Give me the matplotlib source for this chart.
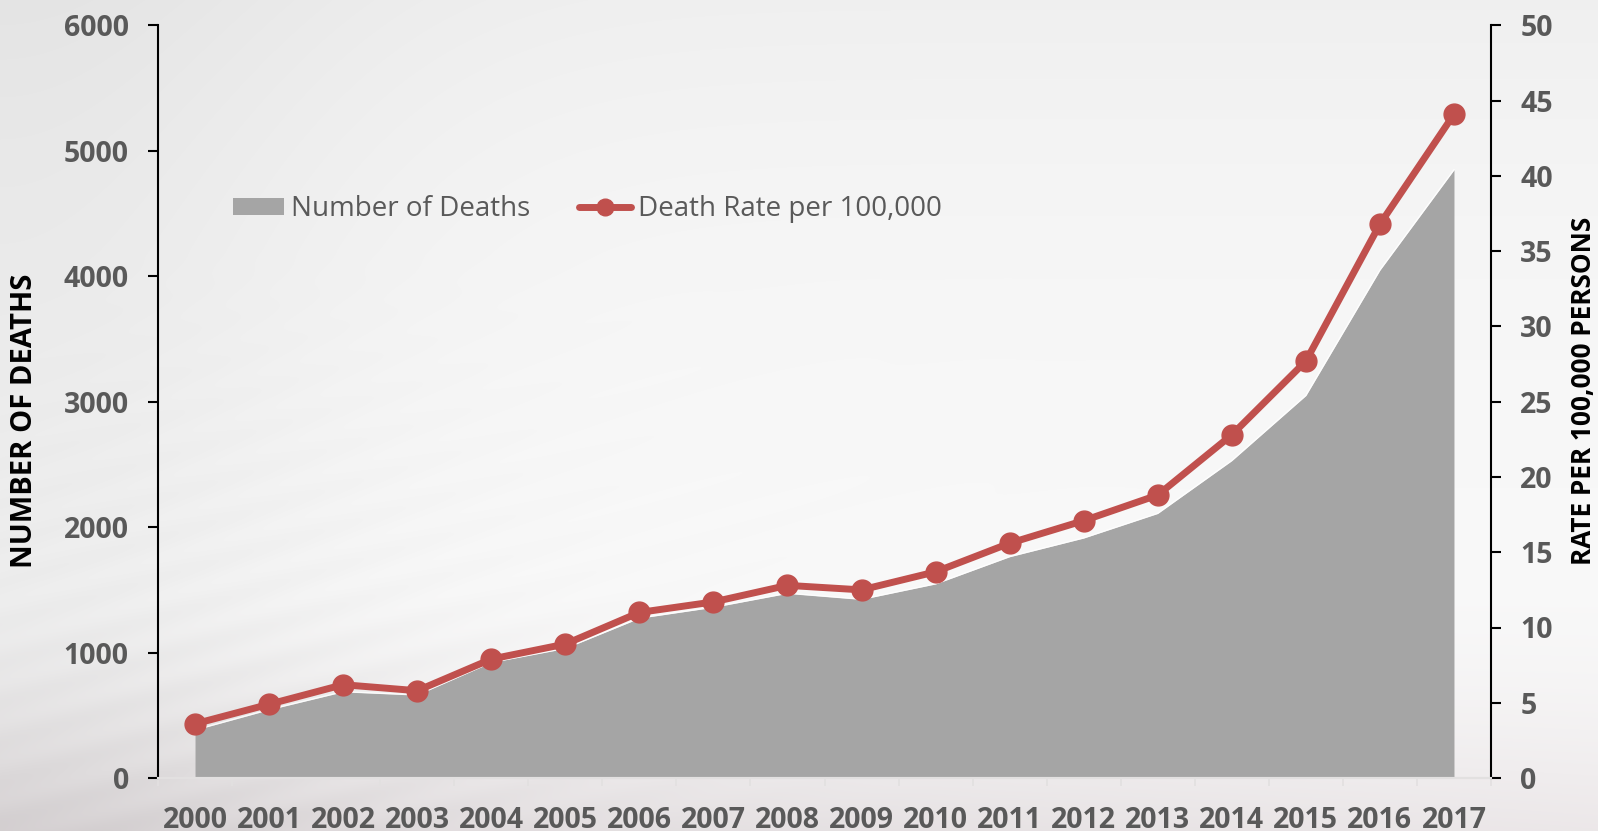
import numpy as np
import matplotlib
matplotlib.use("Agg")
import matplotlib.pyplot as plt
from matplotlib.patches import Patch
from matplotlib.lines import Line2D
from matplotlib.ticker import FixedLocator

plt.rcParams['font.family'] = ['Open Sans', 'DejaVu Sans']

# ---- data -------------------------------------------------------------
years = ['2000', '2001', '2002', '2003', '2004', '2005', '2006', '2007', '2008',
         '2009', '2010', '2011', '2012', '2013', '2014', '2015', '2016', '2017']
deaths = [383, 545, 688, 662, 922, 1034, 1275, 1362, 1473, 1425,
          1548, 1765, 1914, 2110, 2531, 3050, 4050, 4850]
rates = [3.6, 4.9, 6.2, 5.8, 7.9, 8.9, 11.0, 11.7, 12.8, 12.5,
         13.7, 15.6, 17.1, 18.8, 22.8, 27.7, 36.8, 44.1]

deaths_ticks = [0, 1000, 2000, 3000, 4000, 5000, 6000]
rate_ticks = [0, 5, 10, 15, 20, 25, 30, 35, 40, 45, 50]

AREA = '#a5a5a5'
RED = '#c0504d'
TICK_TXT = '#595959'
TICK_SIZE = 20.5

W, H = 1598, 831
fig = plt.figure(figsize=(W / 100, H / 100), dpi=100)

# ---- soft slide-style backdrop ---------------------------------------
yy, xx = np.mgrid[0:1:H * 1j, 0:1:W * 1j]
v = np.full((H, W), 0.975)
v -= 0.035 * (1 - yy) ** 3                      # greyer along the top
v -= 0.045 * np.exp(-(xx / 0.22) ** 2)          # darker left edge
bot = np.clip((yy - 0.70) / 0.30, 0, 1) ** 1.6
v -= bot * (0.11 - 0.05 * xx)                    # darker, warmer bottom
# faint diagonal streaks in the lower left
streak = 0.008 * np.sin((xx * 1.2 + yy * 2.2) * 60) * np.exp(-((xx - 0.15) / 0.25) ** 2) \
    * np.clip((yy - 0.3) / 0.5, 0, 1)
v += streak
rgb = np.dstack([v + 0.010 * bot, v - 0.008 * bot, v - 0.002 * bot])
rgb = np.clip(rgb, 0, 1)
bg = fig.add_axes([0, 0, 1, 1], zorder=-10)
bg.imshow(rgb, aspect='auto', extent=[0, 1, 0, 1], origin='upper')
bg.axis('off')

# ---- main axes --------------------------------------------------------
left, right = 158 / W, 1491 / W
bottom, top = 1 - 778 / H, 1 - 25.5 / H
ax = fig.add_axes([left, bottom, right - left, top - bottom])
ax.patch.set_alpha(0)
x = np.arange(len(years))

ax.fill_between(x, 0, deaths, color=AREA, linewidth=0, zorder=2)
ax.plot(x, deaths, color='white', lw=1.0, alpha=0.85, zorder=3)
ax.set_xlim(-0.5, len(years) - 0.5)
ax.set_ylim(0, 6000)
ax.yaxis.set_major_locator(FixedLocator(deaths_ticks))

ax2 = ax.twinx()
ax2.patch.set_alpha(0)
ax2.plot(x, rates, color=RED, lw=5, marker='o', markersize=15,
         solid_capstyle='round', zorder=5)
ax2.set_ylim(0, 50)
ax2.yaxis.set_major_locator(FixedLocator(rate_ticks))

for a in (ax, ax2):
    a.spines['top'].set_visible(False)
    a.spines['bottom'].set_color('#e2e0e0')
    a.spines['bottom'].set_linewidth(1.5)
    a.spines['left'].set_visible(a is ax)
    a.spines['right'].set_visible(a is ax2)
ax.spines['left'].set_linewidth(1.5)
ax2.spines['right'].set_linewidth(1.5)

ax.set_xticks(x)
ax.set_xticklabels(years)
ax.set_xticks(np.arange(-0.5, len(years), 1), minor=True)
ax.tick_params(axis='x', which='major', length=0, pad=20,
               labelsize=TICK_SIZE, labelcolor=TICK_TXT)
ax.tick_params(axis='x', which='minor', length=6, width=1.2, color='#e2e0e0')
ax.tick_params(axis='y', length=7, width=1.5, pad=14,
               labelsize=TICK_SIZE, labelcolor=TICK_TXT)
ax2.tick_params(axis='y', length=7, width=1.5, pad=14,
                labelsize=TICK_SIZE, labelcolor=TICK_TXT)
ax2.tick_params(axis='x', which='both', length=0, labelbottom=False)
for lab in ax.get_xticklabels() + ax.get_yticklabels() + ax2.get_yticklabels():
    lab.set_fontweight('bold')

fig.text(25 / W, 1 - 421 / H, 'NUMBER OF DEATHS', rotation=90,
         ha='center', va='center', fontsize=21, fontweight='bold', color='black')
fig.text(1583 / W, 1 - 391 / H, 'RATE PER 100,000 PERSONS', rotation=90,
         ha='center', va='center', fontsize=18.8, fontweight='bold', color='black')

handles = [Patch(facecolor=AREA, edgecolor='none'),
           Line2D([0], [0], color=RED, lw=5, marker='o', markersize=12,
                  solid_capstyle='round')]
ax.legend(handles, ['Number of Deaths', 'Death Rate per 100,000'],
          loc='center left', bbox_to_anchor=(233 / W, 1 - 209 / H),
          bbox_transform=fig.transFigure, frameon=False, ncol=2,
          borderpad=0, borderaxespad=0, handlelength=1.85, handleheight=0.55,
          handletextpad=0.25, columnspacing=1.75,
          prop={'size': 20}, labelcolor=TICK_TXT)

fig.savefig('out.png', dpi=100)
